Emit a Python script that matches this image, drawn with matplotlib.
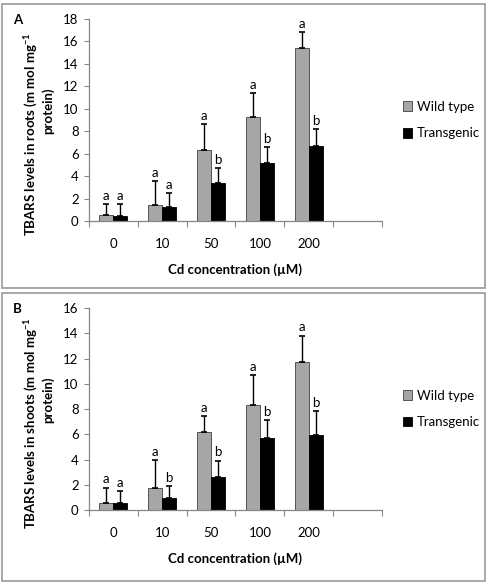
import numpy as np
import matplotlib
matplotlib.use("Agg")
import matplotlib.pyplot as plt
from matplotlib.patches import Rectangle

plt.rcParams['font.family'] = ['Lato', 'DejaVu Sans']
plt.rcParams['mathtext.default'] = 'regular'

CONCENTRATIONS = ["0", "10", "50", "100", "200"]

# panel A: roots
roots_wt = [0.52, 1.45, 6.36, 9.27, 15.44]
roots_wt_err = [0.99, 2.08, 2.31, 2.10, 1.40]
roots_tg = [0.42, 1.28, 3.42, 5.17, 6.65]
roots_tg_err = [1.06, 1.24, 1.27, 1.39, 1.52]
roots_wt_letters = ["a", "a", "a", "a", "a"]
roots_tg_letters = ["a", "a", "b", "b", "b"]

# panel B: shoots
shoots_wt = [0.53, 1.72, 6.16, 8.28, 11.69]
shoots_wt_err = [1.24, 2.25, 1.30, 2.38, 2.12]
shoots_tg = [0.53, 0.95, 2.59, 5.74, 5.95]
shoots_tg_err = [0.98, 0.93, 1.32, 1.40, 1.88]
shoots_wt_letters = ["a", "a", "a", "a", "a"]
shoots_tg_letters = ["a", "b", "b", "b", "b"]

GRAY = "#a6a6a6"
AXIS_GRAY = "#868686"
W = 0.286
FS = 9.5


def draw_panel(ax, wt, wt_err, tg, tg_err, wt_let, tg_let, ymax, ylabel, letter):
    x = np.arange(len(CONCENTRATIONS))
    ax.bar(x - W / 2, wt, W, color=GRAY, edgecolor="#404040", linewidth=0.6, label="Wild type")
    ax.bar(x + W / 2, tg, W, color="black", edgecolor="black", linewidth=0.6, label="Transgenic")
    ax.errorbar(x - W / 2, wt, yerr=[np.zeros(len(wt)), wt_err], fmt="none",
                ecolor="black", elinewidth=1.0, capsize=2.5, capthick=1.2)
    ax.errorbar(x + W / 2, tg, yerr=[np.zeros(len(tg)), tg_err], fmt="none",
                ecolor="black", elinewidth=1.0, capsize=2.5, capthick=1.2)
    for xi, v, e, t in zip(x - W / 2, wt, wt_err, wt_let):
        ax.annotate(t, (xi, v + e), xytext=(0, 3), textcoords="offset points",
                    ha="center", va="baseline", fontsize=FS)
    for xi, v, e, t in zip(x + W / 2, tg, tg_err, tg_let):
        ax.annotate(t, (xi, v + e), xytext=(0, 3), textcoords="offset points",
                    ha="center", va="baseline", fontsize=FS)

    ax.set_xlim(-0.5, 5.5)
    ax.set_ylim(0, ymax)
    ax.set_yticks(np.arange(0, ymax + 1, 2))
    ax.set_xticks(np.arange(-0.5, 6.0, 1.0))
    ax.set_xticklabels([])
    ax.set_xticks(x, minor=True)
    ax.set_xticklabels(CONCENTRATIONS, minor=True)
    ax.tick_params(axis="x", which="major", direction="out", length=4, color=AXIS_GRAY)
    ax.tick_params(axis="x", which="minor", length=0, pad=12, labelsize=FS)
    ax.tick_params(axis="y", direction="out", length=3.5, color=AXIS_GRAY, labelsize=FS, pad=4)
    for s in ["top", "right"]:
        ax.spines[s].set_visible(False)
    for s in ["left", "bottom"]:
        ax.spines[s].set_color(AXIS_GRAY)
        ax.spines[s].set_linewidth(0.9)

    ax.set_xlabel("Cd concentration (\u00b5M)", fontsize=FS, fontweight="bold", labelpad=10)
    # two-line y label, placed line by line as in the original
    line1, line2 = ylabel
    ax.text(-0.195, 0.43, line1, transform=ax.transAxes, rotation=90, fontsize=FS,
            fontweight="bold", ha="center", va="center")
    ax.text(-0.14, 0.545, line2, transform=ax.transAxes, rotation=90, fontsize=FS,
            fontweight="bold", ha="center", va="center")
    ax.text(-0.245, 0.995, letter, transform=ax.transAxes, fontsize=FS, fontweight="bold",
            ha="center", va="center")
    ax.legend(loc="center left", bbox_to_anchor=(1.03, 0.5), frameon=False, fontsize=FS,
              handlelength=0.75, handleheight=0.75, handletextpad=0.35, labelspacing=1.1)


fig = plt.figure(figsize=(4.89, 5.85), dpi=100)

# panel borders
fig.patches.append(Rectangle((2 / 489, 1 - 288 / 585), 483 / 489, 284 / 585,
                             transform=fig.transFigure, fill=False,
                             edgecolor="#9a9a9a", linewidth=1.2))
fig.patches.append(Rectangle((2 / 489, 1 - 581 / 585), 483 / 489, 288 / 585,
                             transform=fig.transFigure, fill=False,
                             edgecolor="#9a9a9a", linewidth=1.2))

ax_a = fig.add_axes([0.182, 0.6222, 0.599, 0.3453])
ax_b = fig.add_axes([0.182, 0.1282, 0.599, 0.3453])

draw_panel(ax_a, roots_wt, roots_wt_err, roots_tg, roots_tg_err,
           roots_wt_letters, roots_tg_letters, 18,
           ("TBARS levels in roots (m mol mg$^{-1}$", "protein)"), "A")
draw_panel(ax_b, shoots_wt, shoots_wt_err, shoots_tg, shoots_tg_err,
           shoots_wt_letters, shoots_tg_letters, 16,
           ("TBARS levels in shoots (m mol mg$^{-1}$", "protein)"), "B")

fig.savefig("out.png", dpi=100)
